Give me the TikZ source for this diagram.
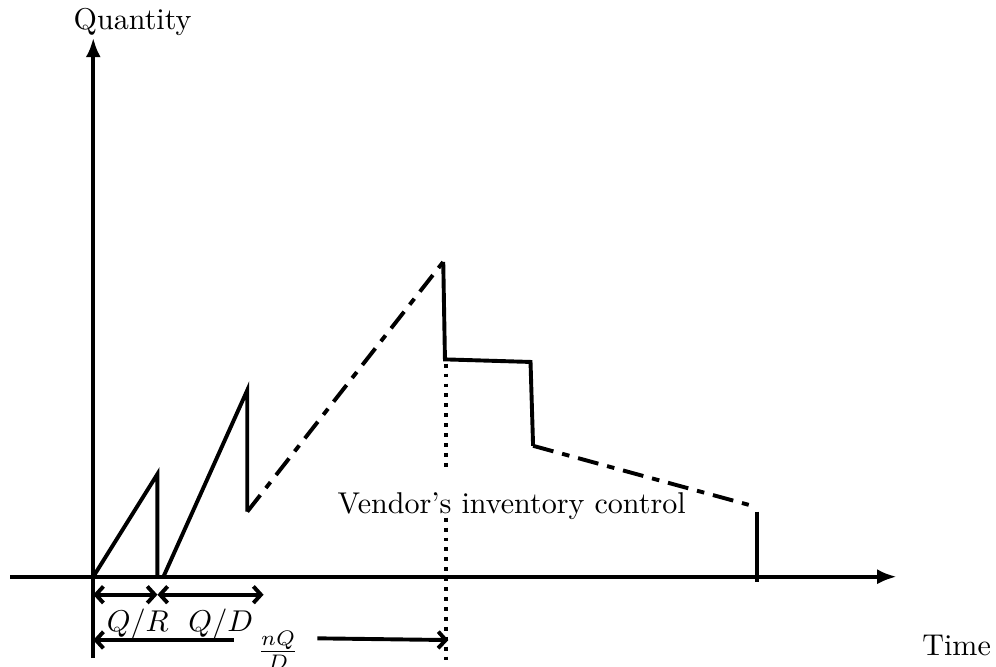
\documentclass[tikz,border=0pt]{standalone}
\usepackage{amsmath}
\usepackage{tikz}
\usetikzlibrary{arrows.meta}

\begin{document}
\begin{tikzpicture}[
  axis/.style={line width=1.3pt, -{Latex[length=6.5pt,width=5pt]}},
  stock/.style={line width=1.3pt},
  gap/.style={line width=1.3pt, dash pattern=on 7pt off 3pt on 2.5pt off 3pt},
  marker/.style={line width=1.3pt, dotted},
  span/.style={line width=1.3pt, {Straight Barb[length=2.5pt,width=5.5pt]}-{Straight Barb[length=2.5pt,width=5.5pt]}},
  arr/.style={line width=1.3pt, -{Straight Barb[length=2.5pt,width=5.5pt]}},
  lbl/.style={inner sep=1pt},
]
\useasboundingbox (-1.09,-1.05) rectangle (10.55,6.74);

% axes
\coordinate (o) at (0,0);
\coordinate (ybot) at (0,-0.95);
\coordinate (xleft) at (-0.97,0);
\node[lbl] (qty) at (0.46,6.48) {Quantity};
\node[lbl] (time) at (10.09,-0.80) {Time};
\coordinate (ytop) at (0,6.30);
\coordinate (xtip) at (9.39,0);
\draw[axis] (ybot) -- (ytop);
\draw[axis] (xleft) -- (xtip);

% inventory level
\coordinate (a1) at (0.75,1.20);
\coordinate (a2) at (0.75,0);
\coordinate (b0) at (0.82,0);
\coordinate (b1) at (1.80,2.18);
\coordinate (b2) at (1.80,0.76);
\coordinate (peak) at (4.09,3.68);
\coordinate (c1) at (4.11,2.54);
\coordinate (c2) at (5.11,2.51);
\coordinate (c3) at (5.14,1.53);
\coordinate (d1) at (7.66,0.84);
\coordinate (e1) at (7.76,0.76);
\coordinate (e2) at (7.76,-0.06);
\draw[stock] (o) -- (a1) -- (a2);
\draw[stock] (b0) -- (b1) -- (b2);
\draw[gap] (b2) -- (peak);
\draw[stock] (peak) -- (c1) -- (c2) -- (c3);
\draw[gap] (c3) -- (d1);
\draw[stock] (e1) -- (e2);

\node[lbl] (vendor) at (4.89,0.83) {Vendor's inventory control};

% marker at n Q / D
\coordinate (m1) at (4.12,2.49);
\coordinate (m2) at (4.12,1.25);
\coordinate (m3) at (4.12,0.69);
\coordinate (m4) at (4.12,-0.97);
\draw[marker] (m1) -- (m2);
\draw[marker] (m3) -- (m4);

% time spans
\coordinate (s0) at (0,-0.21);
\coordinate (s1) at (0.75,-0.21);
\coordinate (s2) at (1.99,-0.21);
\draw[span] (s0) -- (s1);
\draw[span] (s1) -- (s2);
\node[lbl] (qr) at (0.52,-0.55) {$Q/R$};
\node[lbl] (qd) at (1.49,-0.55) {$Q/D$};

\coordinate (t0) at (0,-0.74);
\coordinate (t1) at (1.64,-0.74);
\coordinate (t2) at (2.62,-0.72);
\coordinate (t3) at (4.15,-0.74);
\draw[arr] (t1) -- (t0);
\draw[arr] (t2) -- (t3);
\node[lbl] (nqd) at (2.16,-0.86) {$\frac{nQ}{D}$};

\end{tikzpicture}
\end{document}
